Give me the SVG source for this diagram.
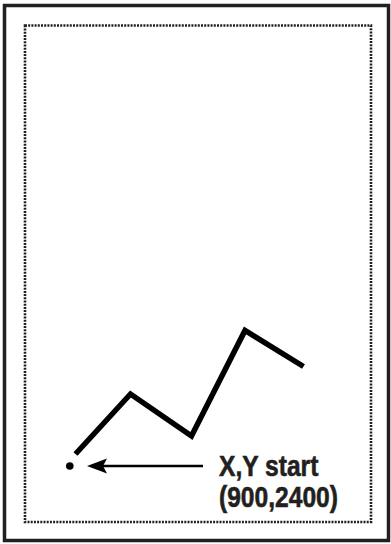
<svg xmlns="http://www.w3.org/2000/svg" width="391" height="544" viewBox="0 0 391 544">
<style>
.frame{fill:none;stroke:#231f20;stroke-width:3.5}
.dotted{fill:none;stroke:#231f20;stroke-width:2.6;stroke-dasharray:2 1.2}
.path{fill:none;stroke:#000;stroke-width:5.5;stroke-linejoin:miter}
.arrow{stroke:#000;stroke-width:2.6;fill:none}
.lbl{font-family:"Liberation Sans",Arial,Helvetica,sans-serif;font-weight:700;font-size:24.6px;fill:#231f20;stroke:#231f20;stroke-width:0.5}
</style>
<rect class="frame" x="4.5" y="5.5" width="384" height="535"/>
<rect class="dotted" x="25" y="25.5" width="346" height="496.5"/>
<g id="zigzag"><polyline class="path" points="75.5,454 130.5,394 191.5,436 245,330.5 303.5,366.5"/></g>
<g id="start-point"><circle cx="69.8" cy="466" r="3.8" fill="#000"/></g>
<g id="connectors"><line class="arrow" x1="203" y1="466" x2="100" y2="466"/><path d="M87,466 L107,458.5 L103,466 L107,473.5 Z" fill="#000"/></g>
<g id="label">
<text class="lbl" font-weight="bold" transform="translate(219,476) scale(1,1.17)">X,Y start</text>
<text class="lbl" font-weight="bold" transform="translate(219,506.5) scale(1,1.17)">(900,2400)</text>
</g>
</svg>
